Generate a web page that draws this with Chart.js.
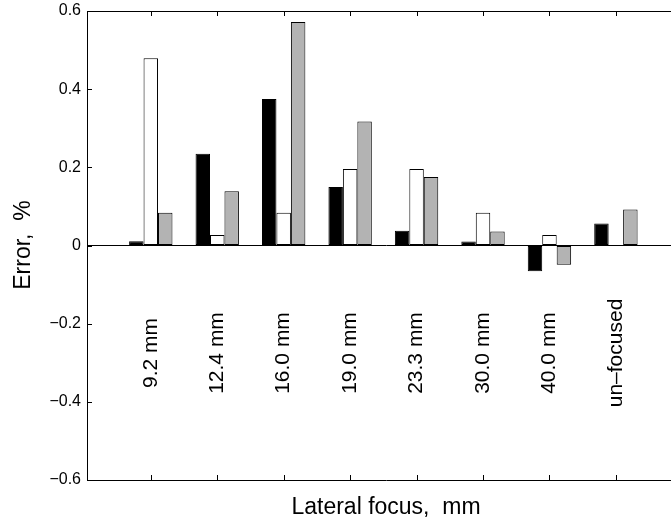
<!DOCTYPE html>
<html>
<head>
<meta charset="utf-8">
<script src="https://cdn.jsdelivr.net/npm/chart.js@4/dist/chart.umd.min.js"></script>
<style>
  body { margin: 0; overflow: hidden; background: #fff; }
</style>
</head>
<body>
<canvas id="chart" width="700" height="517"></canvas>
<script>
var categories = ['9.2 mm', '12.4 mm', '16.0 mm', '19.0 mm', '23.3 mm', '30.0 mm', '40.0 mm', 'un\u2013focused'];
var seriesBlack = [0.011, 0.235, 0.375, 0.150, 0.038, 0.010, -0.066, 0.056];
var seriesWhite = [0.479, 0.027, 0.084, 0.196, 0.196, 0.084, 0.027, 0.001];
var seriesGray  = [0.084, 0.139, 0.572, 0.317, 0.175, 0.036, -0.049, 0.092];
var yTicks = [-0.6, -0.4, -0.2, 0, 0.2, 0.4, 0.6];

var FONT = '"Liberation Sans", Arial, Helvetica, sans-serif';

function points(values) {
    return values.map(function (v, i) { return { x: i + 1, y: v }; });
}

function makeSet(label, values, fill) {
    return {
        label: label,
        data: points(values),
        backgroundColor: fill,
        borderColor: '#000',
        borderWidth: 1,
        borderSkipped: false,
        barPercentage: 1.0,
        categoryPercentage: 0.68
    };
}

// frame, inward ticks, y title and the rotated labels inside the plot
var framePlugin = {
    id: 'frame',
    afterDatasetsDraw: function (chart) {
        var ctx = chart.ctx;
        var a = chart.chartArea;
        var xs = chart.scales.x, ys = chart.scales.y;
        ctx.save();
        ctx.strokeStyle = '#000';
        ctx.lineWidth = 1;
        ctx.beginPath();
        ctx.moveTo(a.left, a.top + 0.5);
        ctx.lineTo(a.right, a.top + 0.5);
        yTicks.forEach(function (t) {
            var py = Math.round(ys.getPixelForValue(t)) + 0.5;
            ctx.moveTo(a.left, py);
            ctx.lineTo(a.left + 5, py);
        });
        categories.forEach(function (c, i) {
            var px = Math.round(xs.getPixelForValue(i + 1)) + 0.5;
            ctx.moveTo(px, a.top);
            ctx.lineTo(px, a.top + 5);
            ctx.moveTo(px, a.bottom);
            ctx.lineTo(px, a.bottom - 5);
        });
        ctx.stroke();

        ctx.fillStyle = '#000';
        ctx.font = '21px ' + FONT;
        ctx.textAlign = 'center';
        ctx.textBaseline = 'middle';
        categories.forEach(function (c, i) {
            ctx.save();
            ctx.translate(xs.getPixelForValue(i + 1), ys.getPixelForValue(-0.275));
            ctx.rotate(-Math.PI / 2);
            ctx.fillText(c, 0, 0);
            ctx.restore();
        });

        // y title
        ctx.save();
        ctx.font = '23px ' + FONT;
        ctx.translate(24, 245);
        ctx.rotate(-Math.PI / 2);
        ctx.fillText('Error,  %', 0, 0);
        ctx.restore();
        ctx.restore();
    }
};

new Chart(document.getElementById('chart'), {
    type: 'bar',
    data: {
        datasets: [
            makeSet('black', seriesBlack, '#000000'),
            makeSet('white', seriesWhite, '#ffffff'),
            makeSet('gray', seriesGray, '#b3b3b3')
        ]
    },
    options: {
        responsive: false,
        animation: false,
        layout: { padding: { top: 11, right: 15, left: 0, bottom: 0 } },
        plugins: { legend: { display: false }, tooltip: { enabled: false } },
        scales: {
            x: {
                type: 'linear',
                offset: false,
                min: 0.04,
                max: 9.04,
                ticks: { display: false },
                grid: { display: false },
                border: { display: true, color: '#000', width: 1 },
                title: {
                    display: true,
                    text: 'Lateral focus,  mm',
                    color: '#000',
                    font: { family: FONT, size: 23, lineHeight: 0.85 },
                    padding: 0
                },
                afterFit: function (s) { s.height = 37; }
            },
            y: {
                min: -0.6,
                max: 0.6,
                afterBuildTicks: function (s) {
                    s.ticks = yTicks.map(function (v) { return { value: v }; });
                },
                ticks: {
                    color: '#000',
                    padding: 6,
                    font: { family: FONT, size: 16 },
                    callback: function (v) {
                        var r = Math.round(v * 10) / 10;
                        if (r === 0) return '0';
                        return (r < 0 ? '\u2212' : '') + Math.abs(r).toFixed(1);
                    }
                },
                grid: {
                    drawTicks: false,
                    color: function (c) { return c.tick && Math.abs(c.tick.value) < 1e-9 ? '#000' : 'rgba(0,0,0,0)'; }
                },
                border: { display: true, color: '#000', width: 1 },
                afterFit: function (s) {
                    s.width = 87;
                    s.paddingTop = 0;
                    s.paddingBottom = 0;
                }
            }
        }
    },
    plugins: [framePlugin]
});
</script>
</body>
</html>
